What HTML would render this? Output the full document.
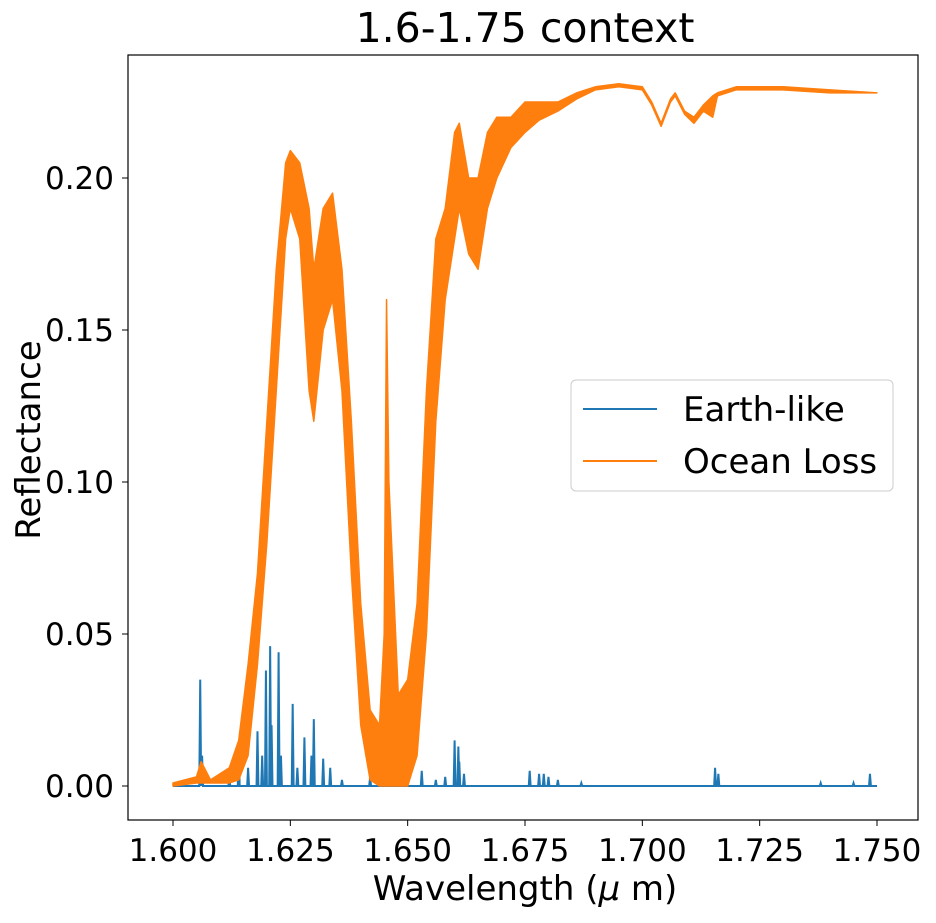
<!DOCTYPE html>
<html><head><meta charset="utf-8"><style>
body{margin:0;background:#fff}
svg text{font-family:"DejaVu Sans","Liberation Sans",sans-serif;fill:#000}
</style></head><body>
<svg id="chart" width="936" height="918" xmlns="http://www.w3.org/2000/svg">
<text x="525" y="42" font-size="41" text-anchor="middle">1.6-1.75 context</text>
<g id="plot"></g>
<rect x="128" y="55" width="790" height="765" fill="none" stroke="#000" stroke-width="1.2"/>
<g id="xticks"></g>
<g id="yticks"></g>
<text x="525" y="900" font-size="34" text-anchor="middle">Wavelength (<tspan font-style="italic">μ</tspan> m)</text>
<text transform="translate(40,440) rotate(-90)" font-size="34" text-anchor="middle">Reflectance</text>
<g>
<rect x="571" y="380" width="322" height="111" rx="5" fill="#fff" fill-opacity="0.8" stroke="#ccc"/>
<g><line x1="583" y1="409" x2="657" y2="409" stroke="#1f77b4" stroke-width="2"/><text x="683" y="421" font-size="34">Earth-like</text></g>
<g><line x1="583" y1="461" x2="657" y2="461" stroke="#ff7f0e" stroke-width="2"/><text x="683" y="473" font-size="34">Ocean Loss</text></g>
</g>
</svg>
<script>
const xTicks=[1.600,1.625,1.650,1.675,1.700,1.725,1.750];
const yTicks=[0,0.05,0.10,0.15,0.20];
const oceanWl=[1.600,1.605,1.606,1.608,1.612,1.614,1.616,1.618,1.620,1.622,1.624,1.625,1.627,1.629,1.630,1.632,1.634,1.636,1.638,1.640,1.642,1.644,1.645,1.6455,1.646,1.648,1.650,1.652,1.654,1.656,1.658,1.660,1.661,1.663,1.665,1.667,1.669,1.672,1.675,1.678,1.682,1.686,1.690,1.695,1.700,1.702,1.704,1.706,1.707,1.709,1.711,1.713,1.715,1.716,1.720,1.730,1.740,1.750];
const oceanUpper=[0.001,0.003,0.008,0.002,0.006,0.015,0.04,0.07,0.12,0.17,0.205,0.209,0.205,0.19,0.17,0.19,0.195,0.17,0.12,0.06,0.025,0.02,0.05,0.16,0.10,0.03,0.035,0.06,0.13,0.18,0.19,0.215,0.218,0.20,0.20,0.215,0.22,0.22,0.225,0.225,0.225,0.228,0.230,0.231,0.230,0.225,0.218,0.226,0.228,0.222,0.220,0.224,0.227,0.228,0.230,0.230,0.229,0.228];
const oceanLower=[0,0.001,0.001,0.001,0.001,0.002,0.01,0.04,0.08,0.13,0.18,0.19,0.18,0.13,0.12,0.15,0.16,0.13,0.07,0.02,0.002,0,0,0,0,0,0,0.01,0.05,0.12,0.16,0.18,0.19,0.175,0.17,0.19,0.20,0.21,0.215,0.219,0.222,0.226,0.229,0.230,0.229,0.224,0.217,0.225,0.227,0.221,0.218,0.222,0.220,0.227,0.229,0.229,0.228,0.228];
const earthWl=[1.6058,1.6062,1.612,1.614,1.616,1.618,1.619,1.6198,1.6207,1.621,1.6225,1.623,1.6255,1.6265,1.628,1.6295,1.630,1.632,1.6335,1.636,1.642,1.645,1.653,1.656,1.658,1.660,1.6608,1.661,1.662,1.676,1.678,1.679,1.680,1.682,1.687,1.7155,1.7162,1.738,1.745,1.7485];
const earthVal=[0.035,0.01,0.003,0.013,0.006,0.018,0.01,0.038,0.046,0.02,0.044,0.01,0.027,0.006,0.016,0.01,0.022,0.009,0.006,0.002,0.003,0.002,0.005,0.002,0.003,0.015,0.013,0.008,0.004,0.005,0.004,0.004,0.003,0.002,0.001,0.006,0.004,0.001,0.001,0.004];
const NS="http://www.w3.org/2000/svg";
const xs=v=>173+(v-1.6)/0.15*704;
const ys=v=>786-v/0.05*152;
const plot=document.getElementById('plot');
function mk(t,a,p){const e=document.createElementNS(NS,t);for(const k in a)e.setAttribute(k,a[k]);(p||plot).appendChild(e);return e;}
let pts=[[xs(1.6),ys(0)]];
earthWl.forEach((w,i)=>{pts.push([xs(w-0.0002),ys(0)],[xs(w),ys(earthVal[i])],[xs(w+0.0002),ys(0)]);});
pts.push([xs(1.75),ys(0)]);
const bl=mk('polyline',{points:pts.map(p=>p.join(',')).join(' '),fill:'none',stroke:'#1f77b4','stroke-width':2});


let op=[];
oceanWl.forEach((w,i)=>op.push(xs(w)+','+ys(oceanUpper[i])));
for(let i=oceanWl.length-1;i>=0;i--)op.push(xs(oceanWl[i])+','+ys(oceanLower[i]));
const ol=mk('polygon',{points:op.join(' '),fill:'#ff7f0e',stroke:'#ff7f0e','stroke-width':1.5,'stroke-linejoin':'round'});


const xg=document.getElementById('xticks'),yg=document.getElementById('yticks');
xTicks.forEach(t=>{const x=xs(t);mk('line',{x1:x,x2:x,y1:820,y2:826,stroke:'#000'},xg);
const tx=mk('text',{x:x,y:861,'font-size':31,'text-anchor':'middle'},xg);tx.textContent=t.toFixed(3);

});
yTicks.forEach(t=>{const y=ys(t);mk('line',{x1:122,x2:128,y1:y,y2:y,stroke:'#000'},yg);
const tx=mk('text',{x:114,y:y+11,'font-size':31,'text-anchor':'end'},yg);tx.textContent=t.toFixed(2);

});
</script>
</body></html>
